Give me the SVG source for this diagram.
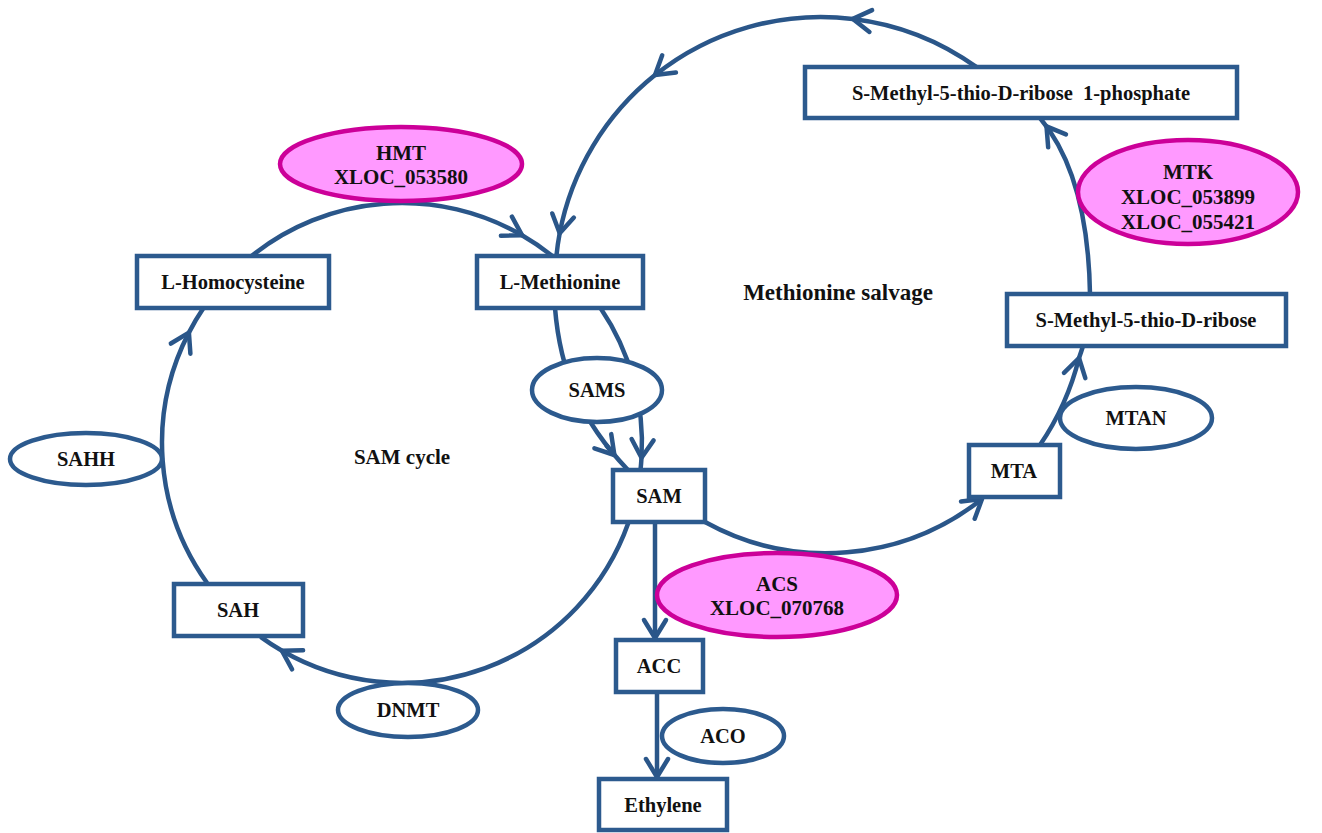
<svg xmlns="http://www.w3.org/2000/svg" width="1322" height="833" viewBox="0 0 1322 833">
<style>
.box{fill:#fff;stroke:#2c5a8e;stroke-width:4.5}
.enz{fill:#fff;stroke:#2c5a8e;stroke-width:4.5}
.pink{fill:#ff99ff;stroke:#cc0099;stroke-width:4.5}
.ln{fill:none;stroke:#2a5689;stroke-width:4.5}
text{font-family:"Liberation Serif","Times New Roman",serif;font-weight:bold;font-size:20.5px;fill:#111;text-anchor:middle}
.pt{font-size:21px}
</style>
<defs>
<marker id="ah" markerUnits="userSpaceOnUse" markerWidth="40" markerHeight="40" refX="0" refY="0" orient="auto" overflow="visible">
<path d="M-18,-11 L0,0 L-18,11" fill="none" stroke="#2a5689" stroke-width="4.5" stroke-linecap="round" stroke-linejoin="round"/>
</marker>
</defs>
<g id="connectors">
<path class="ln" d="M251.9,255.7 A240,240 0 0,1 522,235.2" marker-end="url(#ah)"/>
<path class="ln" d="M522,235.2 A240,240 0 0,1 552,255.7"/>
<path class="ln" d="M600.5,308.1 A240,240 0 0,1 641.5,457.7" marker-end="url(#ah)"/>
<path class="ln" d="M641.5,457.7 A240,240 0 0,1 640.5,470"/>
<path class="ln" d="M555,308 C560,370 580,420 628,470"/>
<path class="ln" d="M606,445 L614.4,455" marker-end="url(#ah)"/>
<path class="ln" d="M628.3,523 A240,240 0 0,1 282,650.8" marker-end="url(#ah)"/>
<path class="ln" d="M282,650.8 A240,240 0 0,1 260.6,636.9"/>
<path class="ln" d="M207.1,583 A240,240 0 0,1 188.9,332.6" marker-end="url(#ah)"/>
<path class="ln" d="M188.9,332.6 A240,240 0 0,1 203.5,308.1"/>
<path class="ln" d="M705,522 A251,251 0 0,0 982,499" marker-end="url(#ah)"/>
<path class="ln" d="M1040,445 A270,270 0 0,0 1079,358" marker-end="url(#ah)"/>
<path class="ln" d="M1079,358 A270,270 0 0,0 1083,346"/>
<path class="ln" d="M1090,294 Q1088,175 1040,118"/>
<path class="ln" d="M1051,132.5 L1046.5,126.3" marker-end="url(#ah)"/>
<path class="ln" d="M976.6,67.2 A266,266 0 0,0 852.9,18.9" marker-end="url(#ah)"/>
<path class="ln" d="M852.9,18.9 A266,266 0 0,0 655,75.1" marker-end="url(#ah)"/>
<path class="ln" d="M655,75.1 A266,266 0 0,0 559.7,233.2" marker-end="url(#ah)"/>
<path class="ln" d="M559.7,233.2 A266,266 0 0,0 556.4,256.1"/>
<path class="ln" d="M655,522 L655,638" marker-end="url(#ah)"/>
<path class="ln" d="M657,692 L657,777" marker-end="url(#ah)"/>
</g>
<g id="homocysteine"><rect class="box" x="137" y="256" width="192" height="52"/><text x="233" y="289">L-Homocysteine</text></g>
<g id="methionine"><rect class="box" x="477" y="256" width="166" height="52"/><text x="560" y="289">L-Methionine</text></g>
<g id="sam"><rect class="box" x="613" y="470" width="92" height="52"/><text x="659" y="503">SAM</text></g>
<g id="sah"><rect class="box" x="174" y="584" width="129" height="52"/><text x="238" y="617">SAH</text></g>
<g id="acc"><rect class="box" x="616" y="640" width="87" height="52"/><text x="659" y="673">ACC</text></g>
<g id="ethylene"><rect class="box" x="599" y="779" width="128" height="51"/><text x="663" y="812">Ethylene</text></g>
<g id="mta"><rect class="box" x="969" y="445" width="91" height="52"/><text x="1014" y="478">MTA</text></g>
<g id="mtr"><rect class="box" x="1007" y="294" width="279" height="52"/><text x="1146" y="327">S-Methyl-5-thio-D-ribose</text></g>
<g id="mtr1p"><rect class="box" x="805" y="67" width="432" height="51"/><text x="1021" y="100">S-Methyl-5-thio-D-ribose&#160; 1-phosphate</text></g>
<g id="sams"><ellipse class="enz" cx="597" cy="390" rx="65" ry="32"/><text x="597" y="397">SAMS</text></g>
<g id="sahh"><ellipse class="enz" cx="86" cy="459" rx="76" ry="26"/><text x="86" y="466">SAHH</text></g>
<g id="dnmt"><ellipse class="enz" cx="408" cy="710" rx="70" ry="27"/><text x="408" y="717">DNMT</text></g>
<g id="mtan"><ellipse class="enz" cx="1136" cy="418" rx="76" ry="31"/><text x="1136" y="425">MTAN</text></g>
<g id="aco"><ellipse class="enz" cx="723" cy="736" rx="61" ry="27"/><text x="723" y="743">ACO</text></g>
<g id="hmt"><ellipse class="pink" cx="401" cy="164" rx="121" ry="37"/><text class="pt" x="401" y="160">HMT</text><text class="pt" x="401" y="184">XLOC_053580</text></g>
<g id="mtk"><ellipse class="pink" cx="1188" cy="192" rx="110" ry="52"/><text class="pt" x="1188" y="179">MTK</text><text class="pt" x="1188" y="204">XLOC_053899</text><text class="pt" x="1188" y="229">XLOC_055421</text></g>
<g id="acs"><ellipse class="pink" cx="777" cy="595" rx="120" ry="42"/><text class="pt" x="777" y="591">ACS</text><text class="pt" x="777" y="615">XLOC_070768</text></g>
<g id="labels"><text x="402" y="464" style="font-size:21px">SAM cycle</text><text x="838" y="300" style="font-size:23px">Methionine salvage</text></g>
</svg>
